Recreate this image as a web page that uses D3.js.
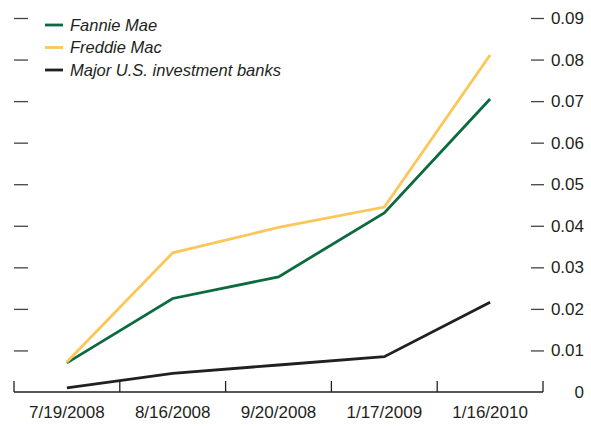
<!DOCTYPE html>
<html>
<head>
<meta charset="utf-8">
<script src="https://cdn.jsdelivr.net/npm/d3@7"></script>
<style>
  body { margin: 0; background: #fff; }
  svg { display: block; font-family: "Liberation Sans", Arial, sans-serif; }
</style>
</head>
<body>
<div id="chart"></div>
<script>
// dates along the bottom
var dates = ["7/19/2008", "8/16/2008", "9/20/2008", "1/17/2009", "1/16/2010"];

// values
var fannieMae = [0.0070, 0.0225, 0.0277, 0.0431, 0.0705];
var freddieMac = [0.0072, 0.0335, 0.0396, 0.0445, 0.0811];
var investmentBanks = [0.0010, 0.0045, 0.0065, 0.0085, 0.0216];

var seriesNames = ["Fannie Mae", "Freddie Mac", "Major U.S. investment banks"];
var seriesColors = ["#0b6b3f", "#fcc659", "#231f20"];

var yTicks = [0, 0.01, 0.02, 0.03, 0.04, 0.05, 0.06, 0.07, 0.08, 0.09];

var width = 591, height = 426;

var svg = d3.select("#chart").append("svg")
	.attr("width", width)
	.attr("height", height);

var x = d3.scaleBand()
	.domain(dates)
	.range([14, 543]);

var y = d3.scaleLinear()
	.domain([0, 0.09])
	.range([392, 18]);

var textColor = "#231f20";

// left ticks, no labels
var leftAxis = svg.append("g")
	.attr("transform", "translate(14,0)")
	.call(d3.axisRight(y).tickValues(yTicks.slice(1)).tickSize(14).tickFormat(""));
leftAxis.select(".domain").remove();
leftAxis.selectAll(".tick line").attr("stroke", "#444").attr("stroke-width", 1.3);

// right ticks with labels
var rightAxis = svg.append("g")
	.attr("transform", "translate(531,0)")
	.call(d3.axisRight(y).tickValues(yTicks).tickSize(13)
		.tickFormat(function(d) { return d === 0 ? "0" : d3.format(".2f")(d); }));
rightAxis.select(".domain").remove();
rightAxis.selectAll(".tick")
	.filter(function(d) { return d === 0; })
	.select("line").remove();
rightAxis.selectAll(".tick line").attr("stroke", "#444").attr("stroke-width", 1.3);
rightAxis.selectAll(".tick text")
	.attr("x", 53)
	.attr("text-anchor", "end")
	.attr("fill", textColor)
	.style("font-size", "17px")
	.style("font-family", "'Liberation Sans', Arial, sans-serif");

// x axis with ticks at the band edges
var xAxis = svg.append("g")
	.attr("transform", "translate(0,392)");
xAxis.append("line")
	.attr("x1", x.range()[0]).attr("x2", x.range()[1])
	.attr("stroke", textColor).attr("stroke-width", 1.5);
var edges = dates.map(function(d) { return x(d); }).concat([x.range()[1]]);
xAxis.selectAll(".edge")
	.data(edges)
	.enter().append("line")
	.attr("class", "edge")
	.attr("x1", function(d) { return d; })
	.attr("x2", function(d) { return d; })
	.attr("y1", 0).attr("y2", -11)
	.attr("stroke", textColor).attr("stroke-width", 1.3);
xAxis.selectAll(".label")
	.data(dates)
	.enter().append("text")
	.attr("class", "label")
	.attr("x", function(d) { return x(d) + x.bandwidth() / 2; })
	.attr("y", 26)
	.attr("text-anchor", "middle")
	.attr("fill", textColor)
	.style("font-size", "17px")
	.text(function(d) { return d; });

// lines
var series = [fannieMae, freddieMac, investmentBanks];
var line = d3.line()
	.x(function(d, i) { return x(dates[i]) + x.bandwidth() / 2; })
	.y(function(d) { return y(d); });

svg.append("g").selectAll("path")
	.data(series)
	.enter().append("path")
	.attr("d", line)
	.attr("fill", "none")
	.attr("stroke", function(d, i) { return seriesColors[i]; })
	.attr("stroke-width", 2.8)
	.attr("stroke-linejoin", "miter");

// legend
var legend = svg.append("g").selectAll("g")
	.data(seriesNames)
	.enter().append("g")
	.attr("transform", function(d, i) { return "translate(45," + (25 + i * 22.5) + ")"; });
legend.append("line")
	.attr("x1", 0).attr("x2", 18)
	.attr("stroke", function(d, i) { return seriesColors[i]; })
	.attr("stroke-width", 2.8);
legend.append("text")
	.attr("x", 25)
	.attr("dy", "0.35em")
	.attr("fill", textColor)
	.style("font-size", "16.5px")
	.style("font-style", "italic")
	.text(function(d) { return d; });
</script>
</body>
</html>
